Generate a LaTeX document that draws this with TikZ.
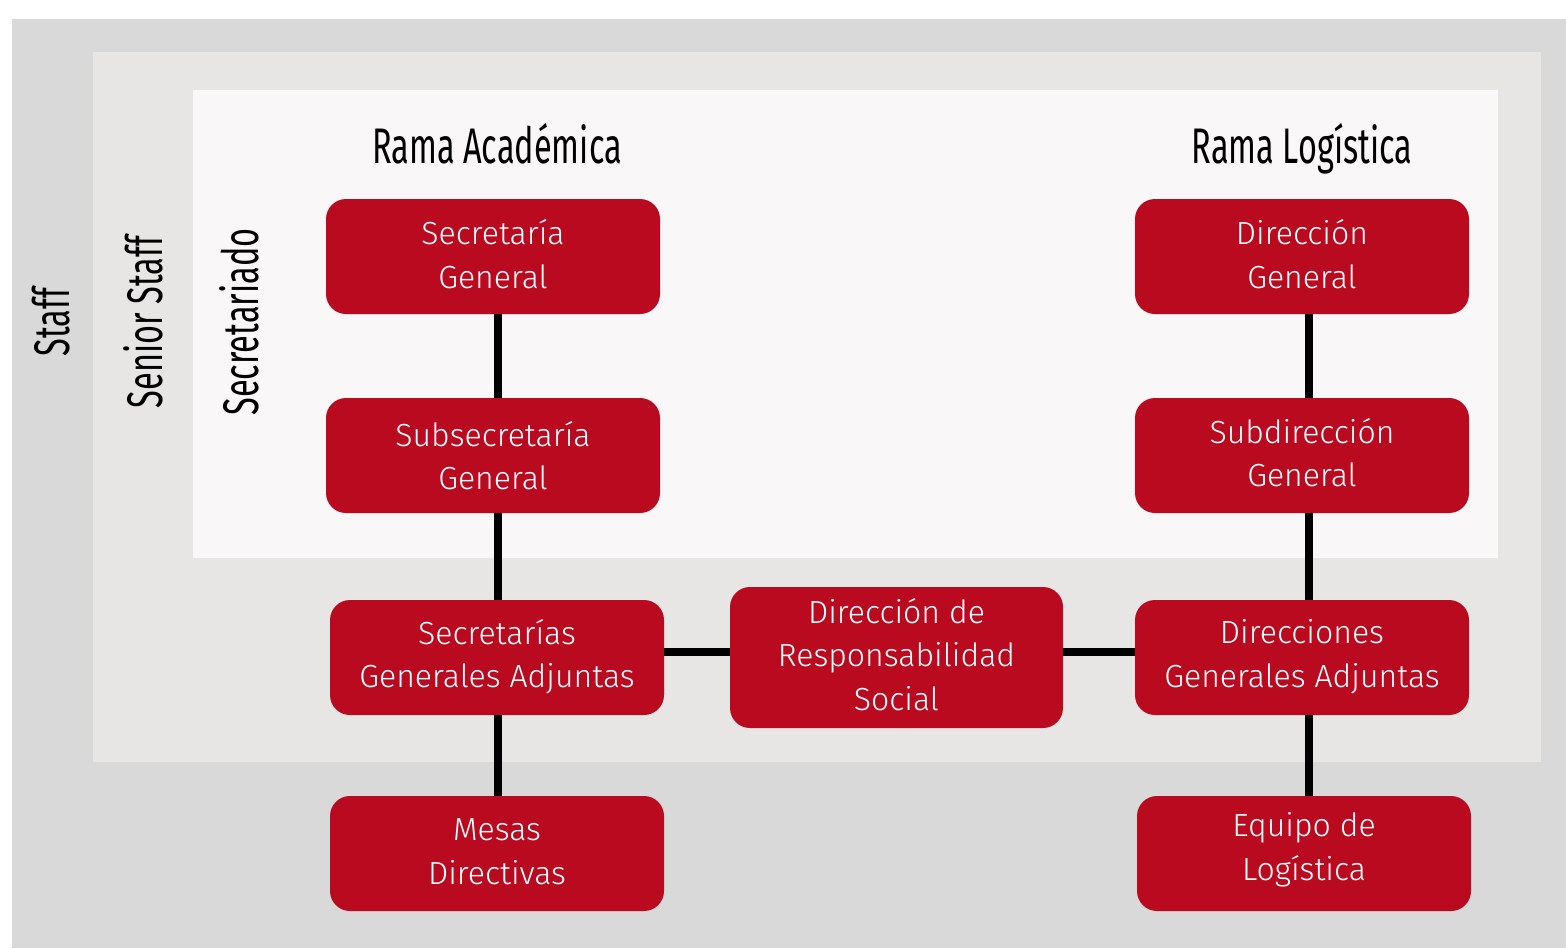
\documentclass[tikz,border=0pt]{standalone}
\usepackage{fontspec}
\setmainfont{Fira Sans}[UprightFont={* Light}]
\newfontfamily\headfont[FakeStretch=0.65]{Fira Sans}
\definecolor{staffgray}{HTML}{D9D9D9}
\definecolor{seniorgray}{HTML}{E7E6E4}
\definecolor{secgray}{HTML}{F9F7F8}
\definecolor{boxred}{HTML}{B90A20}
\begin{document}
\begin{tikzpicture}[x=1pt,y=-1pt,
  orgbox/.style={fill=boxred, draw=none, rounded corners=20pt,
    minimum width=334pt, minimum height=115pt, inner sep=0pt},
  boxtext/.style={text=white, align=center, inner sep=0pt,
    font=\fontsize{32}{43.5}\selectfont},
  conn/.style={line width=8pt, black},
  head/.style={font=\headfont\fontsize{50}{55}\selectfont, text=black, anchor=base},
  side/.style={font=\headfont\fontsize{50}{55}\selectfont, text=black, rotate=90}]
\useasboundingbox (0,0) rectangle (1566,948);
\fill[white] (0,0) rectangle (1566,948);
\fill[staffgray] (12,19) rectangle (1566,948);
\fill[seniorgray] (93,52) rectangle (1541,762);
\fill[secgray] (193,90) rectangle (1498,558);

\node[side] (staff) at (51,322) {Staff};
\node[side] (senior) at (143,322) {Senior Staff};
\node[side] (secret) at (239,322) {Secretariado};

\node[head] (rama1) at (497,163) {Rama Académica};
\node[head] (rama2) at (1302,163) {Rama Logística};

\node[orgbox] (sg) at (493,256.5) {};
\node[orgbox] (ssg) at (493,455.5) {};
\node[orgbox] (sga) at (497,657.5) {};
\node[orgbox] (md) at (497,853.5) {};
\node[orgbox, minimum width=333pt, minimum height=141pt] (drs) at (896.5,657.5) {};
\node[orgbox] (dg) at (1302,256.5) {};
\node[orgbox] (sdg) at (1302,455.5) {};
\node[orgbox] (dga) at (1302,657.5) {};
\node[orgbox] (el) at (1304,853.5) {};

\node[boxtext] (sg-t) at ([yshift=2.5pt]sg.center) {Secretaría\\General};
\node[boxtext] (ssg-t) at ([yshift=0pt]ssg.center) {Subsecretaría\\General};
\node[boxtext] (sga-t) at ([yshift=1pt]sga.center) {Secretarías\\Generales Adjuntas};
\node[boxtext] (md-t) at ([yshift=2pt]md.center) {Mesas\\Directivas};
\node[boxtext] (drs-t) at ([yshift=3pt]drs.center) {Dirección de\\Responsabilidad\\Social};
\node[boxtext] (dg-t) at ([yshift=2.5pt]dg.center) {Dirección\\General};
\node[boxtext] (sdg-t) at ([yshift=3pt]sdg.center) {Subdirección\\General};
\node[boxtext] (dga-t) at ([yshift=1pt]dga.center) {Direcciones\\Generales Adjuntas};
\node[boxtext] (el-t) at ([yshift=4pt]el.center) {Equipo de\\Logística};

\draw[conn] (sg.south -| 498,0) -- (ssg.north -| 498,0);
\draw[conn] (ssg.south -| 498,0) -- (sga.north -| 498,0);
\draw[conn] (sga.south -| 498,0) -- (md.north -| 498,0);
\draw[conn] (dg.south -| 1309,0) -- (sdg.north -| 1309,0);
\draw[conn] (sdg.south -| 1309,0) -- (dga.north -| 1309,0);
\draw[conn] (dga.south -| 1309,0) -- (el.north -| 1309,0);
\draw[conn] (sga.east |- 0,652) -- (drs.west |- 0,652);
\draw[conn] (drs.east |- 0,652) -- (dga.west |- 0,652);
\end{tikzpicture}
\end{document}
